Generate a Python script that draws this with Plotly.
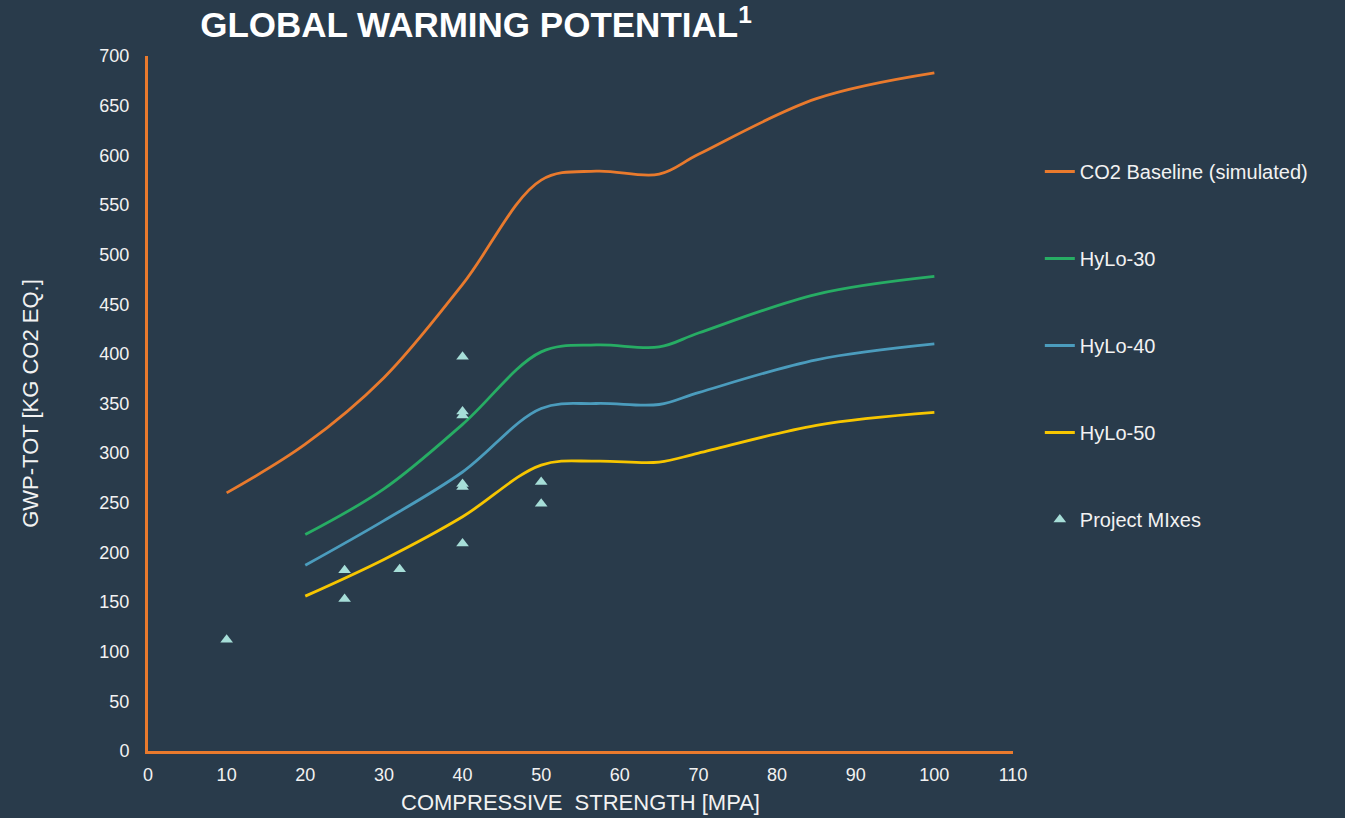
import plotly.graph_objects as go

# ---- data ----
baseline_x = [10, 20, 30, 40, 50, 57, 65, 70, 85, 100]
baseline_y = [260, 309, 376, 470, 575, 584, 581, 601, 657, 683]

hylo_x = [20, 30, 40, 50, 57, 65, 70, 85, 100]
hylo30_y = [218, 264, 329, 402, 409, 407, 421, 460, 478]
hylo40_y = [187, 232, 281, 345, 350, 349, 361, 394, 410]
hylo50_y = [156, 193, 236, 288, 292, 291, 300, 328, 341]

mix_x = [10, 25, 25, 32, 40, 40, 40, 40, 40, 40, 50, 50]
mix_y = [112, 182, 153, 183, 397, 342, 338, 269, 266, 209, 271, 249]

x_ticks = [0, 10, 20, 30, 40, 50, 60, 70, 80, 90, 100, 110]
y_ticks = [0, 50, 100, 150, 200, 250, 300, 350, 400, 450, 500, 550, 600, 650, 700]

BG = "#293b4b"
ORANGE = "#e97a2d"
GREEN = "#27ad64"
BLUE = "#4b9cbd"
YELLOW = "#f7c600"
TEAL = "#a6ded8"
TXT = "#f2f2f2"

fig = go.Figure()
line_series = [
    ("CO2 Baseline (simulated)", baseline_x, baseline_y, ORANGE),
    ("HyLo-30", hylo_x, hylo30_y, GREEN),
    ("HyLo-40", hylo_x, hylo40_y, BLUE),
    ("HyLo-50", hylo_x, hylo50_y, YELLOW),
]
for i, (name, xs, ys, col) in enumerate(line_series):
    fig.add_trace(go.Scatter(
        x=xs, y=ys, name=name, mode="lines", legendgroup=f"g{i}",
        line=dict(color=col, width=2.8, shape="spline", smoothing=1.0),
    ))
fig.add_trace(go.Scatter(
    x=mix_x, y=mix_y, name="Project MIxes", mode="markers", legendgroup="g4",
    marker=dict(symbol="triangle-up", size=11, color=TEAL),
))

FONT = "Liberation Sans, Arial, sans-serif"

fig.update_layout(
    width=1345, height=818,
    paper_bgcolor=BG, plot_bgcolor=BG,
    margin=dict(l=148, r=332, t=56, b=67),
    font=dict(family=FONT, color=TXT),
    title=dict(
        text="GLOBAL WARMING POTENTIAL<sup>1</sup>",
        font=dict(family=FONT, size=35, color="#ffffff", weight="bold"),
        xref="container", yref="container",
        x=476 / 1345, xanchor="center", y=1 - 25 / 818, yanchor="middle",
    ),
    showlegend=True,
    legend=dict(
        x=1.031, xanchor="left", y=(751 - 152) / 695, yanchor="top",
        font=dict(size=20, color=TXT),
        tracegroupgap=58, bgcolor="rgba(0,0,0,0)",
    ),
    xaxis=dict(
        range=[0, 110], tickvals=x_ticks, showgrid=False, zeroline=False,
        showline=True, linecolor=ORANGE, linewidth=3, automargin=False,
        ticks="", ticklabelstandoff=5, tickfont=dict(family=FONT, size=18, color=TXT),
        title=dict(text="COMPRESSIVE  STRENGTH [MPA]", font=dict(family=FONT, size=22, color=TXT), standoff=12),
    ),
    yaxis=dict(
        range=[0, 700], tickvals=y_ticks, showgrid=False, zeroline=False,
        showline=True, linecolor=ORANGE, linewidth=3, automargin=False,
        ticks="", ticklabelstandoff=12, tickfont=dict(family=FONT, size=18, color=TXT),
        title=dict(text="GWP-TOT [KG CO2 EQ.]", font=dict(family=FONT, size=22, color=TXT), standoff=55),
    ),
)

fig.write_html("out.html", config={"displayModeBar": False},
               post_script="document.body.style.margin='0';")
